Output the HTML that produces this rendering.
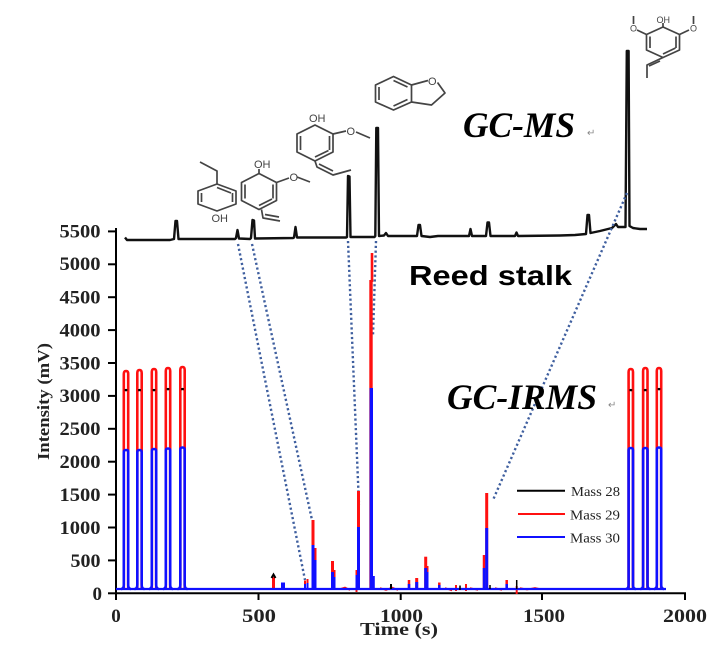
<!DOCTYPE html>
<html><head><meta charset="utf-8"><style>
html,body{margin:0;padding:0;background:#fff;}
svg{display:block;}
</style></head><body>
<svg width="718" height="653" viewBox="0 0 718 653" xmlns="http://www.w3.org/2000/svg">
<rect width="718" height="653" fill="#fff"/>

<!-- ===== Chemical structures (gray) ===== -->
<g stroke="#444" stroke-width="1.7" fill="none" stroke-linejoin="round">
  <!-- 4-ethylphenol -->
  <polygon points="217,184 236,191 236,204 217,211 198,204 198,191"/>
  <line x1="201.5" y1="193" x2="201.5" y2="202"/>
  <line x1="232.5" y1="193" x2="232.5" y2="202"/>
  <line x1="217" y1="187.5" x2="231" y2="193"/>
  <polyline points="217,184 217,171 200,162"/>
  <!-- 4-vinylguaiacol -->
  <polygon points="259,173.5 276.5,182.5 276.5,200.5 259,209.5 241.5,200.5 241.5,182.5"/>
  <line x1="245" y1="184.5" x2="245" y2="198.5"/>
  <line x1="273" y1="184.5" x2="273" y2="198.5"/>
  <line x1="259" y1="205.5" x2="272" y2="199"/>
  <line x1="259" y1="173.5" x2="259" y2="169"/>
  <line x1="276.5" y1="182.5" x2="289" y2="178"/>
  <line x1="297" y1="177" x2="310" y2="182"/>
  <polyline points="261.5,209.5 263,218 280,221"/>
  <line x1="265" y1="214.5" x2="279" y2="217"/>
  <!-- isoeugenol -->
  <polygon points="315,125 333,134 333,152 315,161 297,152 297,134"/>
  <line x1="300.5" y1="136" x2="300.5" y2="150"/>
  <line x1="329.5" y1="136" x2="329.5" y2="150"/>
  <line x1="315" y1="157" x2="328.5" y2="150.5"/>
  <line x1="333" y1="134" x2="346" y2="131"/>
  <line x1="356" y1="132" x2="370" y2="138"/>
  <polyline points="315,161 317,167 333,175 351,170"/>
  <line x1="319" y1="164" x2="333" y2="171"/>
  <!-- 2,3-dihydrobenzofuran -->
  <polygon points="393.5,76.5 411.5,85 411.5,102 393.5,110 375.5,102 375.5,85"/>
  <line x1="379" y1="87" x2="379" y2="100"/>
  <line x1="393.5" y1="80.5" x2="407.5" y2="87"/>
  <line x1="393.5" y1="106" x2="407.5" y2="99.5"/>
  <polyline points="411.5,85 428,80.5"/>
  <polyline points="437.5,82.5 445,93 431.5,105 411.5,102"/>
  <!-- propenylsyringol -->
  <polygon points="663,27 679.5,34.5 679.5,50 663,57.5 646.5,50 646.5,34.5"/>
  <line x1="650" y1="36.5" x2="650" y2="48"/>
  <line x1="676" y1="36.5" x2="676" y2="48"/>
  <line x1="663" y1="54" x2="675.5" y2="48"/>
  <line x1="663" y1="27" x2="663" y2="23"/>
  <line x1="646.5" y1="34.5" x2="637" y2="30"/>
  <line x1="633.5" y1="24" x2="633.5" y2="16"/>
  <line x1="679.5" y1="34.5" x2="689" y2="30"/>
  <line x1="693.5" y1="24" x2="693.5" y2="16"/>
  <polyline points="663,57.5 647,65 647,78"/>
  <line x1="660" y1="61" x2="649" y2="66"/>
</g>
<g fill="#444" font-family="Liberation Sans, sans-serif" font-size="11">
  <text x="211.5" y="222">OH</text>
  <text x="254" y="168">OH</text>
  <text x="289.5" y="181">O</text>
  <text x="309" y="122">OH</text>
  <text x="346.5" y="135">O</text>
  <text x="428" y="85">O</text>
  <text x="656.5" y="23" font-size="9">OH</text>
  <text x="630" y="31.5" font-size="9">O</text>
  <text x="690" y="31.5" font-size="9">O</text>
</g>

<!-- ===== GC-MS trace ===== -->
<path d="M125,237.5 L127,240 L170,240 L174,239 L175.5,221 L177,221 L178.5,239 L235,239 L236,238 L237.5,230 L239,238.5 L250,239 L251,238 L252.5,220 L254,220.5 L255,238.5 L293,238 L294,237.5 L295.5,227 L297,237.5 L346,237.5 L347,237 L348,176 L349.5,176.5 L350.5,237 L374.5,237 L375.3,236 L376.3,128 L378,128 L379,236 L384,235.5 L386,233 L388,236 L417,236 L418.5,225 L420,225 L421.5,236 L430,237 L438,236 L469,236 L470.5,229 L472,236 L486,236 L487.5,222.5 L489,222.5 L490.5,236 L515,236 L516.5,232.5 L518,236 L560,235.5 L575,235 L586,234 L587.5,215 L589,215 L590.5,233 L600,231 L612,228 L616,224 L618,227 L625.5,227 L626.8,51 L628.6,51 L629.5,226 L633,228 L640,229 L647,229" fill="none" stroke="#111" stroke-width="2.4" stroke-linejoin="round"/>

<!-- ===== Dotted connecting lines ===== -->
<g stroke="#3f5f9f" stroke-width="2.4" stroke-dasharray="2.2 2.6" fill="none">
  <line x1="238" y1="244" x2="305" y2="580"/>
  <line x1="252" y1="244" x2="312" y2="520"/>
  <line x1="348" y1="241" x2="359" y2="505"/>
  <line x1="376" y1="241" x2="373" y2="335"/>
  <line x1="627" y1="193" x2="493" y2="500"/>
</g>

<!-- ===== Axes ===== -->
<g stroke="#000" stroke-width="2" fill="none">
  <line x1="116" y1="228" x2="116" y2="594"/>
  <line x1="115" y1="593.3" x2="686" y2="593.3"/>
  <line x1="108" y1="593.3" x2="116" y2="593.3"/>
  <line x1="108" y1="560.4" x2="116" y2="560.4"/>
  <line x1="108" y1="527.5" x2="116" y2="527.5"/>
  <line x1="108" y1="494.6" x2="116" y2="494.6"/>
  <line x1="108" y1="461.7" x2="116" y2="461.7"/>
  <line x1="108" y1="428.8" x2="116" y2="428.8"/>
  <line x1="108" y1="395.9" x2="116" y2="395.9"/>
  <line x1="108" y1="363" x2="116" y2="363"/>
  <line x1="108" y1="330.1" x2="116" y2="330.1"/>
  <line x1="108" y1="297.2" x2="116" y2="297.2"/>
  <line x1="108" y1="264.3" x2="116" y2="264.3"/>
  <line x1="108" y1="231.4" x2="116" y2="231.4"/>
  <line x1="116" y1="593" x2="116" y2="600"/>
  <line x1="258.5" y1="593" x2="258.5" y2="600"/>
  <line x1="400.7" y1="593" x2="400.7" y2="600"/>
  <line x1="542" y1="593" x2="542" y2="600"/>
  <line x1="685" y1="593" x2="685" y2="600"/>
</g>
<g font-family="Liberation Serif, serif" font-weight="bold" font-size="19" fill="#222" text-anchor="end">
  <text x="102" y="600">0</text>
  <text x="100.5" y="567" textLength="30" lengthAdjust="spacingAndGlyphs">500</text>
  <text x="100.5" y="534" textLength="41" lengthAdjust="spacingAndGlyphs">1000</text>
  <text x="100.5" y="501" textLength="41" lengthAdjust="spacingAndGlyphs">1500</text>
  <text x="100.5" y="468" textLength="41" lengthAdjust="spacingAndGlyphs">2000</text>
  <text x="100.5" y="435" textLength="41" lengthAdjust="spacingAndGlyphs">2500</text>
  <text x="100.5" y="402" textLength="41" lengthAdjust="spacingAndGlyphs">3000</text>
  <text x="100.5" y="369.5" textLength="41" lengthAdjust="spacingAndGlyphs">3500</text>
  <text x="100.5" y="336.5" textLength="41" lengthAdjust="spacingAndGlyphs">4000</text>
  <text x="100.5" y="303.5" textLength="41" lengthAdjust="spacingAndGlyphs">4500</text>
  <text x="100.5" y="270" textLength="41" lengthAdjust="spacingAndGlyphs">5000</text>
  <text x="100.5" y="237.5" textLength="41" lengthAdjust="spacingAndGlyphs">5500</text>
</g>
<g font-family="Liberation Serif, serif" font-weight="bold" font-size="19" fill="#222" text-anchor="middle">
  <text x="116" y="622">0</text>
  <text x="259" y="622" textLength="34" lengthAdjust="spacingAndGlyphs">500</text>
  <text x="401.5" y="622" textLength="43" lengthAdjust="spacingAndGlyphs">1000</text>
  <text x="544" y="622" textLength="42" lengthAdjust="spacingAndGlyphs">1500</text>
  <text x="685" y="622" textLength="44" lengthAdjust="spacingAndGlyphs">2000</text>
</g>
<text x="360" y="635" font-family="Liberation Serif, serif" font-weight="bold" font-size="18" fill="#222" textLength="78" lengthAdjust="spacingAndGlyphs">Time (s)</text>
<text transform="translate(49,401.5) rotate(-90)" text-anchor="middle" font-family="Liberation Serif, serif" font-weight="bold" font-size="17" fill="#222" textLength="117" lengthAdjust="spacingAndGlyphs">Intensity (mV)</text>

<!-- ===== GC-IRMS traces ===== -->
<g stroke="#000" stroke-width="2.2" fill="none">
  <path d="M123.8,589 L123.8,392 Q123.8,390 126,390 Q128.2,390 128.2,392 L128.2,589"/>
  <path d="M137.3,589 L137.3,392 Q137.3,390 139.5,390 Q141.7,390 141.7,392 L141.7,589"/>
  <path d="M151.8,589 L151.8,392 Q151.8,390 154,390 Q156.2,390 156.2,392 L156.2,589"/>
  <path d="M165.8,589 L165.8,391 Q165.8,389 168,389 Q170.2,389 170.2,391 L170.2,589"/>
  <path d="M180.3,589 L180.3,391 Q180.3,389 182.5,389 Q184.7,389 184.7,391 L184.7,589"/>
  <path d="M628.6,589 L628.6,392 Q628.6,390 630.8,390 Q633,390 633,392 L633,589"/>
  <path d="M643.1,589 L643.1,392 Q643.1,390 645.3,390 Q647.5,390 647.5,392 L647.5,589"/>
  <path d="M656.8,589 L656.8,391 Q656.8,389 659,389 Q661.2,389 661.2,391 L661.2,589"/>
</g>
<g stroke="#ff1010" stroke-width="2.6" fill="none">
  <path d="M123.8,589 L123.8,374 Q123.8,371 126,371 Q128.2,371 128.2,374 L128.2,589"/>
  <path d="M137.3,589 L137.3,373 Q137.3,370 139.5,370 Q141.7,370 141.7,373 L141.7,589"/>
  <path d="M151.8,589 L151.8,372 Q151.8,369 154,369 Q156.2,369 156.2,372 L156.2,589"/>
  <path d="M165.8,589 L165.8,371 Q165.8,368 168,368 Q170.2,368 170.2,371 L170.2,589"/>
  <path d="M180.3,589 L180.3,370 Q180.3,367 182.5,367 Q184.7,367 184.7,370 L184.7,589"/>
  <path d="M628.6,589 L628.6,372 Q628.6,369 630.8,369 Q633,369 633,372 L633,589"/>
  <path d="M643.1,589 L643.1,371 Q643.1,368 645.3,368 Q647.5,368 647.5,371 L647.5,589"/>
  <path d="M656.8,589 L656.8,371 Q656.8,368 659,368 Q661.2,368 661.2,371 L661.2,589"/>
</g>
<g stroke="#000" stroke-width="1.4">
  <line x1="124.5" y1="390" x2="127.5" y2="390"/>
  <line x1="138" y1="390" x2="141" y2="390"/>
  <line x1="152.5" y1="390" x2="155.5" y2="390"/>
  <line x1="166.5" y1="389" x2="169.5" y2="389"/>
  <line x1="181" y1="389" x2="184" y2="389"/>
  <line x1="629.3" y1="390" x2="632.3" y2="390"/>
  <line x1="643.8" y1="390" x2="646.8" y2="390"/>
  <line x1="657.5" y1="389" x2="660.5" y2="389"/>
</g>
<g stroke="#ff1010" fill="none" stroke-linecap="butt">
  <line x1="273.5" y1="589" x2="273.5" y2="577" stroke-width="3"/>
  <line x1="305" y1="589" x2="305" y2="580.5" stroke-width="2"/>
  <line x1="307.5" y1="589" x2="307.5" y2="579" stroke-width="2"/>
  <line x1="313" y1="589" x2="313" y2="520" stroke-width="3"/>
  <line x1="315.5" y1="589" x2="315.5" y2="548" stroke-width="2"/>
  <line x1="332.5" y1="589" x2="332.5" y2="561" stroke-width="3"/>
  <line x1="334.5" y1="589" x2="334.5" y2="570" stroke-width="2"/>
  <line x1="356.5" y1="592" x2="356.5" y2="570" stroke-width="2"/>
  <line x1="358.5" y1="589" x2="358.5" y2="491" stroke-width="3"/>
  <line x1="371" y1="589" x2="371" y2="280" stroke-width="3.4"/>
  <line x1="372" y1="282" x2="372" y2="253" stroke-width="2.6"/>
  <line x1="409" y1="589" x2="409" y2="580" stroke-width="2.5"/>
  <line x1="416.7" y1="589" x2="416.7" y2="578" stroke-width="3"/>
  <line x1="425.7" y1="589" x2="425.7" y2="556.7" stroke-width="3"/>
  <line x1="427.5" y1="589" x2="427.5" y2="566" stroke-width="2"/>
  <line x1="439.3" y1="589" x2="439.3" y2="582.5" stroke-width="2.5"/>
  <line x1="456" y1="591" x2="456" y2="585" stroke-width="2"/>
  <line x1="466" y1="591" x2="466" y2="584" stroke-width="2"/>
  <line x1="484" y1="589" x2="484" y2="555" stroke-width="2.5"/>
  <line x1="486.7" y1="589" x2="486.7" y2="493" stroke-width="3"/>
  <line x1="506.7" y1="589" x2="506.7" y2="580" stroke-width="2.5"/>
  <line x1="516.7" y1="594" x2="516.7" y2="586" stroke-width="2"/>
  <path d="M340,589 L345,587.5 L350,590 M380,588 L386,590 L392,587.5 L398,590 M445,588 L452,590.5 M470,588 L478,590 M495,588 L502,590 M520,588 L527,589.5 L535,588 L540,589" stroke-width="1.6"/>
</g>
<g stroke="#1010ff" stroke-width="2.6" fill="none">
  <line x1="116" y1="589" x2="666" y2="589" stroke-width="2.2"/>
  <path d="M121,589 Q123.8,589 123.8,585 L123.8,452 Q123.8,450 126,450 Q128.2,450 128.2,452 L128.2,585 Q128.2,589 131,589"/>
  <path d="M134.5,589 Q137.3,589 137.3,585 L137.3,452 Q137.3,450 139.5,450 Q141.7,450 141.7,452 L141.7,585 Q141.7,589 144.5,589"/>
  <path d="M149,589 Q151.8,589 151.8,585 L151.8,451 Q151.8,449 154,449 Q156.2,449 156.2,451 L156.2,585 Q156.2,589 159,589"/>
  <path d="M163,589 Q165.8,589 165.8,585 L165.8,450.5 Q165.8,448.5 168,448.5 Q170.2,448.5 170.2,450.5 L170.2,585 Q170.2,589 173,589"/>
  <path d="M177.5,589 Q180.3,589 180.3,585 L180.3,449.5 Q180.3,447.5 182.5,447.5 Q184.7,447.5 184.7,449.5 L184.7,585 Q184.7,589 187.5,589"/>
  <path d="M625.8,589 Q628.6,589 628.6,585 L628.6,450 Q628.6,448 630.8,448 Q633,448 633,450 L633,585 Q633,589 635.8,589"/>
  <path d="M640.3,589 Q643.1,589 643.1,585 L643.1,450 Q643.1,448 645.3,448 Q647.5,448 647.5,450 L647.5,585 Q647.5,589 650.3,589"/>
  <path d="M654,589 Q656.8,589 656.8,585 L656.8,449.5 Q656.8,447.5 659,447.5 Q661.2,447.5 661.2,449.5 L661.2,585 Q661.2,589 664,589"/>
</g>
<g stroke="#1010ff" fill="none">
  <line x1="283" y1="589" x2="283" y2="582.5" stroke-width="4"/>
  <line x1="305" y1="589" x2="305" y2="584" stroke-width="2"/>
  <line x1="307.5" y1="589" x2="307.5" y2="583" stroke-width="2"/>
  <line x1="313" y1="589" x2="313" y2="545" stroke-width="3"/>
  <line x1="315.5" y1="589" x2="315.5" y2="560" stroke-width="2"/>
  <line x1="332.5" y1="589" x2="332.5" y2="572" stroke-width="3"/>
  <line x1="334.5" y1="589" x2="334.5" y2="577" stroke-width="2"/>
  <line x1="356.5" y1="589" x2="356.5" y2="575" stroke-width="2"/>
  <line x1="358.5" y1="589" x2="358.5" y2="527" stroke-width="3"/>
  <line x1="371.3" y1="589" x2="371.3" y2="388" stroke-width="3.4"/>
  <line x1="373.8" y1="589" x2="373.8" y2="576" stroke-width="2"/>
  <line x1="409" y1="589" x2="409" y2="584" stroke-width="2.5"/>
  <line x1="416.7" y1="589" x2="416.7" y2="582" stroke-width="3"/>
  <line x1="425.7" y1="589" x2="425.7" y2="568" stroke-width="3"/>
  <line x1="427.5" y1="589" x2="427.5" y2="572" stroke-width="2"/>
  <line x1="439.3" y1="589" x2="439.3" y2="585" stroke-width="2.5"/>
  <line x1="484" y1="589" x2="484" y2="568" stroke-width="2.5"/>
  <line x1="486.7" y1="589" x2="486.7" y2="528" stroke-width="3"/>
  <line x1="506.7" y1="589" x2="506.7" y2="584" stroke-width="2.5"/>
</g>
<g stroke="#000" fill="none">
  <path d="M271.5,578 L273.5,574.5 L275.5,578" stroke-width="2"/>
  <line x1="391" y1="589" x2="391" y2="584" stroke-width="2"/>
  <line x1="460" y1="590" x2="460" y2="585.5" stroke-width="1.6"/>
  <line x1="490" y1="589" x2="490" y2="585" stroke-width="1.5"/>
  <line x1="516.7" y1="589" x2="516.7" y2="580" stroke-width="1.5"/>
</g>

<!-- ===== Legend ===== -->
<g stroke-width="2">
  <line x1="517" y1="490.7" x2="565" y2="490.7" stroke="#000"/>
  <line x1="518" y1="514" x2="565" y2="514" stroke="#ff1010"/>
  <line x1="517" y1="537" x2="565" y2="537" stroke="#1010ff"/>
</g>
<g font-family="Liberation Serif, serif" font-size="14" fill="#222">
  <text x="571" y="496" textLength="49" lengthAdjust="spacingAndGlyphs">Mass 28</text>
  <text x="570" y="519.5" textLength="50" lengthAdjust="spacingAndGlyphs">Mass 29</text>
  <text x="570" y="542.5" textLength="50" lengthAdjust="spacingAndGlyphs">Mass 30</text>
</g>

<!-- ===== Labels ===== -->
<text x="463" y="137" font-family="Liberation Serif, serif" font-weight="bold" font-style="italic" font-size="36" fill="#000" textLength="112" lengthAdjust="spacingAndGlyphs">GC-MS</text>
<text x="587" y="136" font-family="DejaVu Sans, sans-serif" font-size="10" fill="#888">↵</text>
<text x="447" y="409" font-family="Liberation Serif, serif" font-weight="bold" font-style="italic" font-size="36" fill="#000" textLength="150" lengthAdjust="spacingAndGlyphs">GC-IRMS</text>
<text x="608" y="408" font-family="DejaVu Sans, sans-serif" font-size="10" fill="#888">↵</text>
<text x="409" y="285" font-family="Liberation Sans, sans-serif" font-weight="bold" font-size="28" fill="#000" textLength="163" lengthAdjust="spacingAndGlyphs">Reed stalk</text>
</svg>
</body></html>
